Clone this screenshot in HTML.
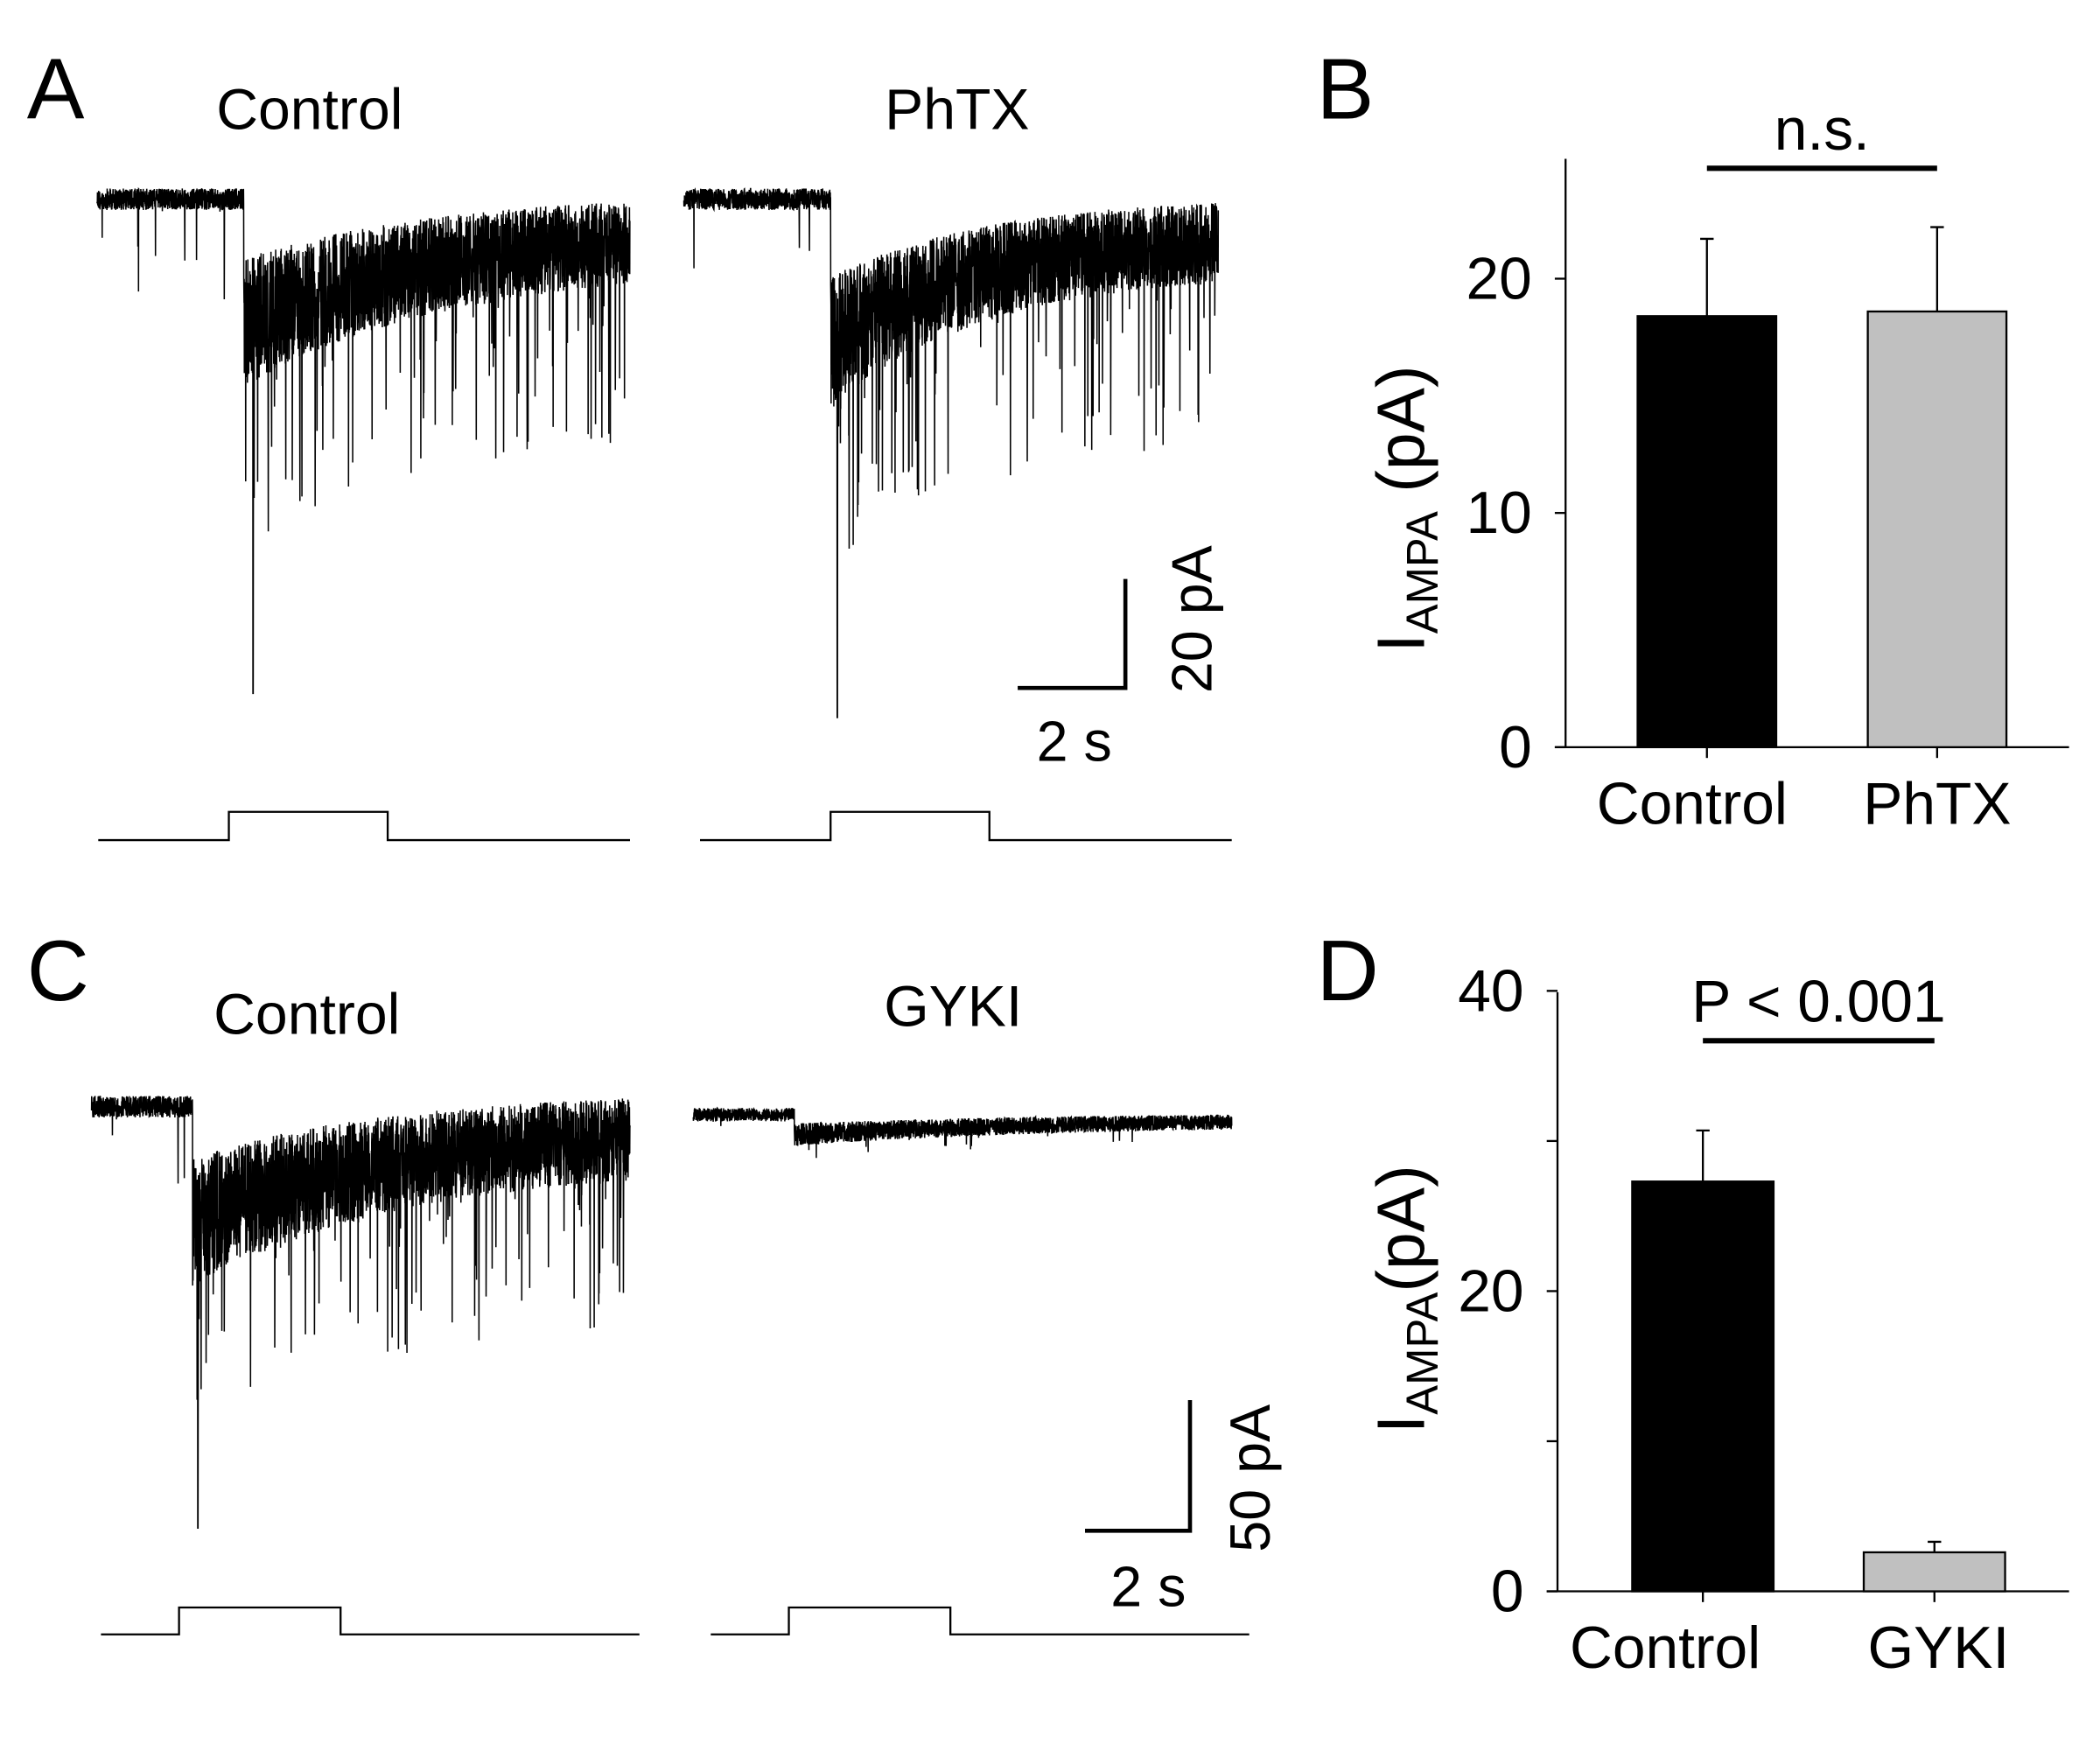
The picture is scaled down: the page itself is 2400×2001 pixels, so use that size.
<!DOCTYPE html>
<html><head><meta charset="utf-8"><style>
html,body{margin:0;padding:0;background:#fff;}
svg{display:block;}
text{font-family:"Liberation Sans",Arial,sans-serif;fill:#000;}
</style></head><body>
<svg id="fig" width="2400" height="2001" viewBox="0 0 1560 1300.6" preserveAspectRatio="none">
<g id="labels">
<text x="20" y="88" font-size="64">A</text>
<text x="230" y="96" font-size="43" text-anchor="middle">Control</text>
<text x="711" y="96" font-size="43" text-anchor="middle">PhTX</text>
<text x="978" y="88" font-size="64">B</text>
<text x="20" y="743" font-size="64">C</text>
<text x="228" y="768" font-size="43" text-anchor="middle">Control</text>
<text x="708" y="762" font-size="43" text-anchor="middle">GYKI</text>
<text x="978" y="743" font-size="64">D</text>
</g>
<g id="scalebars" stroke="#000" stroke-width="3" fill="none">
<path d="M836 430 V511 H756"/>
<path d="M884 1040 V1137 H806"/>
</g>
<text transform="translate(900,460) rotate(-90)" font-size="42" text-anchor="middle">20 pA</text>
<text x="798" y="565" font-size="42" text-anchor="middle">2 s</text>
<text transform="translate(943,1098) rotate(-90)" font-size="42" text-anchor="middle">50 pA</text>
<text x="853" y="1193" font-size="42" text-anchor="middle">2 s</text>
<g id="steps" stroke="#000" stroke-width="1.5" fill="none">
<path d="M73 624 H170 V603 H288 V624 H468"/>
<path d="M520 624 H617 V603 H735 V624 H915"/>
<path d="M75 1214 H133 V1194 H253 V1214 H475"/>
<path d="M528 1214 H586 V1194 H706 V1214 H928"/>
</g>
<g id="traces"></g>
<g id="chartB"></g>
<g id="chartD"></g>
</svg>
<script>
// ---- Panel B data ----
const bCategories = ["Control","PhTX"];
const bMeans = [18.4, 18.6];
const bErrors = [3.3, 3.6];
const bTicks = [0,10,20];
// ---- Panel D data ----
const dCategories = ["Control","GYKI"];
const dMeans = [27.3, 2.6];
const dErrors = [3.4, 0.7];
const dTicks = [0,20,40];
const dMinorTicks = [10,30];

const NS="http://www.w3.org/2000/svg";
function mk(tag, attrs, parent){const e=document.createElementNS(NS,tag);for(const k in attrs)e.setAttribute(k,attrs[k]);parent.appendChild(e);return e;}

function barChart(g, cfg){
  const y = v => cfg.y0 - (v - 0) * cfg.pxPerUnit;
  let a = mk('line',{x1:cfg.ax,y1:cfg.yTop,x2:cfg.ax,y2:cfg.y0,stroke:'#000','stroke-width':1.5},g);
  
  
  a = mk('line',{x1:cfg.ax-8,y1:cfg.y0,x2:cfg.xEnd,y2:cfg.y0,stroke:'#000','stroke-width':1.5},g);
  
  
  cfg.ticks.forEach(t=>{
    const l=mk('line',{x1:cfg.ax-8,y1:y(t),x2:cfg.ax,y2:y(t),stroke:'#000','stroke-width':1.5},g);
    
    
    const tx=mk('text',{x:cfg.ax-25,y:y(t)+15,'font-size':44,'text-anchor':'end'},g);
    tx.textContent=t;
    
    
  });
  (cfg.minor||[]).forEach(t=>{
    const l=mk('line',{x1:cfg.ax-8,y1:y(t),x2:cfg.ax,y2:y(t),stroke:'#000','stroke-width':1.5},g);
    
    
  });
  cfg.cats.forEach((c,i)=>{
    const cx=cfg.centers[i], top=y(cfg.means[i]), et=y(cfg.means[i]+cfg.errs[i]);
    const eb=mk('path',{d:`M${cx} ${top} V${et} M${cx-5} ${et} H${cx+5}`,stroke:'#000','stroke-width':1.5,fill:'none'},g);
    
    
    const r=mk('rect',{x:cx-cfg.bw/2,y:top,width:cfg.bw,height:cfg.y0-top,fill:cfg.fills[i],stroke:'#000','stroke-width':1.5},g);
    
    
    const tk=mk('line',{x1:cx,y1:cfg.y0,x2:cx,y2:cfg.y0+8,stroke:'#000','stroke-width':1.5},g);
    
    
    const tx=mk('text',{x:cx+cfg.labOff[i],y:cfg.y0+57,'font-size':44,'text-anchor':'middle'},g);
    tx.textContent=c;
    
    
  });
  const s=mk('line',{x1:cfg.centers[0],y1:cfg.sigY,x2:cfg.centers[1],y2:cfg.sigY,stroke:'#000','stroke-width':4},g);
  
  
  const st=mk('text',{x:(cfg.centers[0]+cfg.centers[1])/2,y:cfg.sigY-14,'font-size':44,'text-anchor':'middle'},g);
  st.textContent=cfg.sigText;
  
  
  const yl=mk('text',{transform:`translate(${cfg.ylx},${cfg.yly}) rotate(-90)`,'font-size':50,'text-anchor':'middle'},g);
  yl.innerHTML='I<tspan font-size="33" dy="10">AMPA</tspan><tspan dy="-10">'+cfg.ylTail+'</tspan>';
  
  
}
barChart(document.getElementById('chartB'),{prefix:'b',ax:1163,yTop:118,y0:555,xEnd:1537,pxPerUnit:17.4,ticks:bTicks,
  cats:bCategories,means:bMeans,errs:bErrors,centers:[1268,1439],bw:103,fills:['#000','#c0c0c0'],labOff:[-11,0],
  sigY:125,sigText:'n.s.',ylx:1058,yly:378,ylTail:' (pA)'});
barChart(document.getElementById('chartD'),{prefix:'d',ax:1157,yTop:737,y0:1182,xEnd:1537,pxPerUnit:11.15,ticks:dTicks,minor:dMinorTicks,
  cats:dCategories,means:dMeans,errs:dErrors,centers:[1265,1437],bw:105,fills:['#000','#c0c0c0'],labOff:[-28,3],
  sigY:773,sigText:'P < 0.001',ylx:1058,yly:965,ylTail:'(pA)'});

// ---- Recorded current traces (deterministic texture) ----
let seed=12345;
function rnd(){seed=(seed*1103515245+12345)%2147483648;return seed/2147483648;}
function trace(name,c){
  let d='';const N=Math.round((c.x1-c.x0)*8);
  for(let i=0;i<=N;i++){
    const x=c.x0+(c.x1-c.x0)*i/N;
    let m=c.base, hw=c.hwPre, p=c.pPre;
    if(x>c.on){const k=Math.exp(-(x-c.on)/c.tau);m=c.base+c.d*k+c.plat;hw=c.hwPost*(0.7+0.5*k);p=c.pPost;}
    let yv=m+(rnd()*2-1)*hw;
    if(rnd()<p) yv=m+hw+rnd()*c.spk*(x>c.on?1:0.6);
    if(c.peak && Math.abs(x-c.peak[0])<0.2) yv=c.peak[1];
    d+=(i?'L':'M')+x.toFixed(1)+' '+yv.toFixed(1);
  }
  const g=document.getElementById('traces');
  const p=mk('path',{d:d,stroke:'#000','stroke-width':1,fill:'none'},g);
  
  
}
trace('trace-a-control',{x0:72,x1:468,base:148,on:181,d:70,tau:150,plat:22,hwPre:8,hwPost:40,pPre:0.006,pPost:0.03,spk:120,peak:[188,515]});
trace('trace-a-phtx',{x0:508,x1:905,base:148,on:617,d:80,tau:120,plat:25,hwPre:8,hwPost:40,pPre:0.006,pPost:0.03,spk:120,peak:[622,533]});
trace('trace-c-control',{x0:68,x1:468,base:822,on:143,d:70,tau:160,plat:15,hwPre:8,hwPost:40,pPre:0.006,pPost:0.03,spk:110,peak:[147,1135]});
trace('trace-c-gyki',{x0:515,x1:915,base:828,on:590,d:12,tau:200,plat:3,hwPre:5,hwPost:7,pPre:0.003,pPost:0.006,spk:10});
</script>
</body></html>
